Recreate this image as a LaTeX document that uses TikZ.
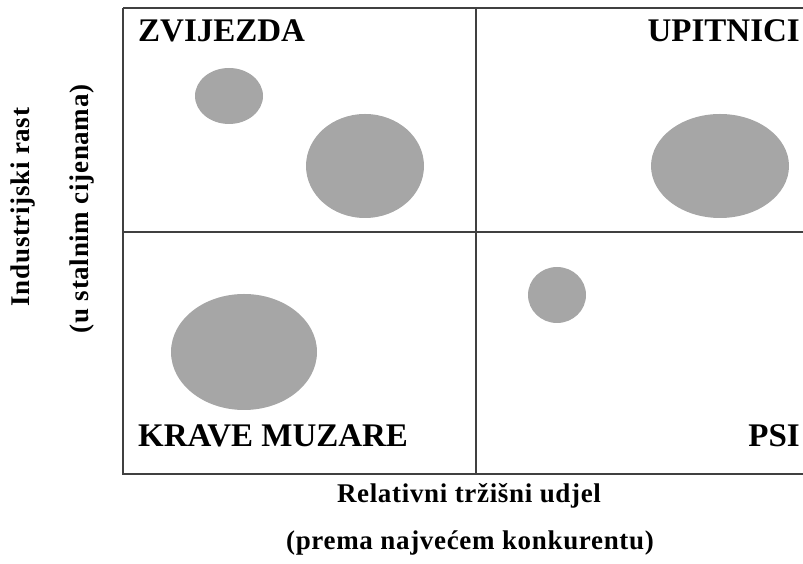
\documentclass[tikz,border=0pt]{standalone}
\usepackage{fontspec}
\setmainfont{Liberation Serif}
\begin{document}
\begin{tikzpicture}[x=1pt,y=1pt,
  frame/.style={draw=black!75,line width=1.4pt},
  blob/.style={fill=black!35,draw=none},
  quad/.style={font=\bfseries\fontsize{33}{36}\selectfont,inner sep=0pt},
  axis/.style={font=\bfseries\fontsize{27}{30}\selectfont\addfontfeature{LetterSpace=2.5},inner sep=0pt}]
\useasboundingbox (0,0) rectangle (803,564);
\clip (0,0) rectangle (803,564);
\coordinate (tl) at (123,556);
\coordinate (tr) at (810,556);
\coordinate (bl) at (123,90);
\coordinate (br) at (810,90);
\coordinate (vt) at (476,556);
\coordinate (vb) at (476,90);
\coordinate (hl) at (123,332);
\coordinate (hr) at (810,332);
\draw[frame] (tl) -- (tr) (tl) -- (bl) -- (br);
\draw[frame] (vt) -- (vb);
\draw[frame] (hl) -- (hr);
\fill[blob] (229,468) ellipse [x radius=34, y radius=28];
\fill[blob] (365,398) ellipse [x radius=59, y radius=52];
\fill[blob] (720,398) ellipse [x radius=69, y radius=52];
\fill[blob] (557,269) ellipse [x radius=29, y radius=28];
\fill[blob] (244,212) ellipse [x radius=73, y radius=58];
\node[quad,anchor=base west] (zv) at (138,522) {ZVIJEZDA};
\node[quad,anchor=base east] (up) at (800,522) {UPITNICI};
\node[quad,anchor=base west] (km) at (138,117) {KRAVE MUZARE};
\node[quad,anchor=base east] (psi) at (800,117) {PSI};
\node[axis,anchor=base] (rel) at (469,61) {Relativni tržišni udjel};
\node[axis,anchor=base] (pre) at (470,14) {(prema najvećem konkurentu)};
\node[axis,rotate=90] (ind) at (23,357) {Industrijski rast};
\node[axis,rotate=90] (stal) at (82,355) {(u stalnim cijenama)};
\end{tikzpicture}
\end{document}
